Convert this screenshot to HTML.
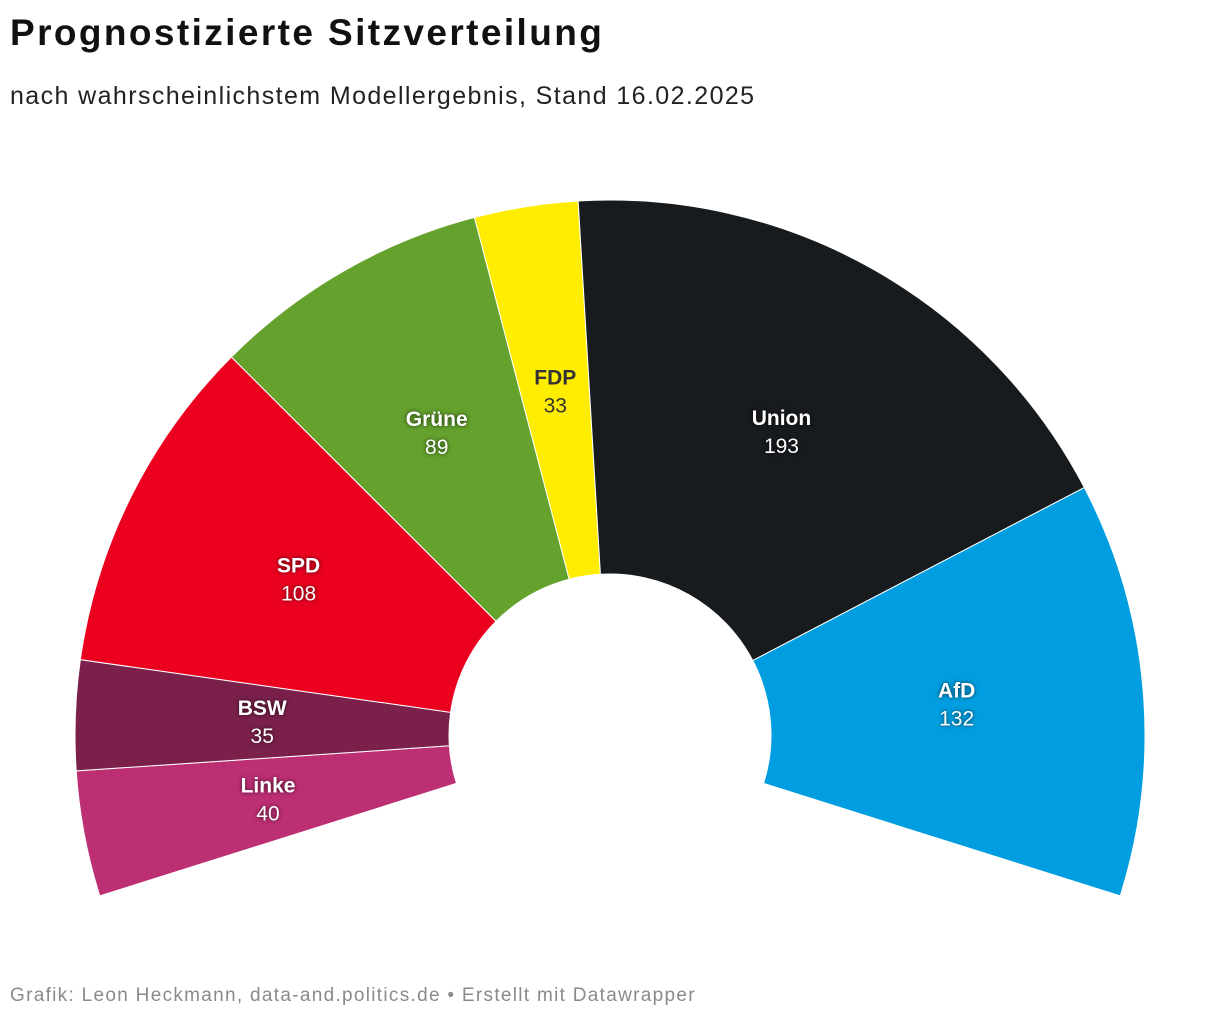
<!DOCTYPE html>
<html><head><meta charset="utf-8">
<style>
body{margin:0;background:#fff;font-family:"Liberation Sans",sans-serif;}
#wrap{position:relative;width:1220px;height:1020px;overflow:hidden;}
.t{position:absolute;left:10px;white-space:nowrap;}
</style></head><body>
<div id="wrap">
<div class="t" style="top:12px;font-size:37px;font-weight:bold;color:#111;letter-spacing:2.4px;">Prognostizierte Sitzverteilung</div>
<div class="t" style="top:82px;font-size:25px;color:#222;letter-spacing:1.4px;">nach wahrscheinlichstem Modellergebnis, Stand 16.02.2025</div>
<svg id="chart" width="1220" height="1020" style="position:absolute;left:0;top:0;"></svg>
<div class="t" style="top:985px;font-size:19px;color:#8a8a8a;letter-spacing:1.3px;">Grafik: Leon Heckmann, data-and.politics.de • Erstellt mit Datawrapper</div>
</div>
<script>
const parties = ["Linke","BSW","SPD","Grüne","FDP","Union","AfD"];
const seats = [40,35,108,89,33,193,132];
const colors = ["#bc2f73","#7a204b","#eb0020","#64a12d","#ffed00","#181b1e","#009ee0"];
const textColors = ["#fff","#fff","#fff","#fff","#333","#fff","#fff"];

const svg = document.getElementById('chart');
const NS = "http://www.w3.org/2000/svg";
const cx=610, cy=735, R=535, r=161, lr=348, over=17.5;
const total = seats.reduce((a,b)=>a+b,0);
const span = 180+2*over;
function pt(deg,rad){const a=deg*Math.PI/180;return [cx+rad*Math.cos(a), cy-rad*Math.sin(a)];}
let start = 180+over;
seats.forEach((s,i)=>{
  const end = start - s/total*span;
  const [x1,y1]=pt(start,R),[x2,y2]=pt(end,R),[x3,y3]=pt(end,r),[x4,y4]=pt(start,r);
  const large = (start-end)>180?1:0;
  const p=document.createElementNS(NS,'path');
  p.setAttribute('d',`M${x1},${y1} A${R},${R} 0 ${large} 1 ${x2},${y2} L${x3},${y3} A${r},${r} 0 ${large} 0 ${x4},${y4} Z`);
  p.setAttribute('fill',colors[i]);
  p.setAttribute('stroke','#fff');
  p.setAttribute('stroke-width','1');
  
  
  svg.appendChild(p);
  const mid=(start+end)/2;
  const [lx,ly]=pt(mid,lr);
  const shadow = textColors[i]==="#fff"?"drop-shadow(0 0 2px rgba(0,0,0,0.7))":"none";
  const t1=document.createElementNS(NS,'text');
  t1.setAttribute('x',lx);t1.setAttribute('y',ly-7);
  t1.setAttribute('text-anchor','middle');t1.setAttribute('font-size','21');t1.setAttribute('font-weight','bold');
  t1.setAttribute('fill',textColors[i]);t1.style.filter=shadow;
  t1.setAttribute('font-family','Liberation Sans, sans-serif');
  t1.textContent=parties[i];
  
  
  svg.appendChild(t1);
  const t2=document.createElementNS(NS,'text');
  t2.setAttribute('x',lx);t2.setAttribute('y',ly+21);
  t2.setAttribute('text-anchor','middle');t2.setAttribute('font-size','21');
  t2.setAttribute('fill',textColors[i]);t2.style.filter=shadow;
  t2.setAttribute('font-family','Liberation Sans, sans-serif');
  t2.textContent=s;
  
  
  svg.appendChild(t2);
  start=end;
});
</script>
</body></html>
